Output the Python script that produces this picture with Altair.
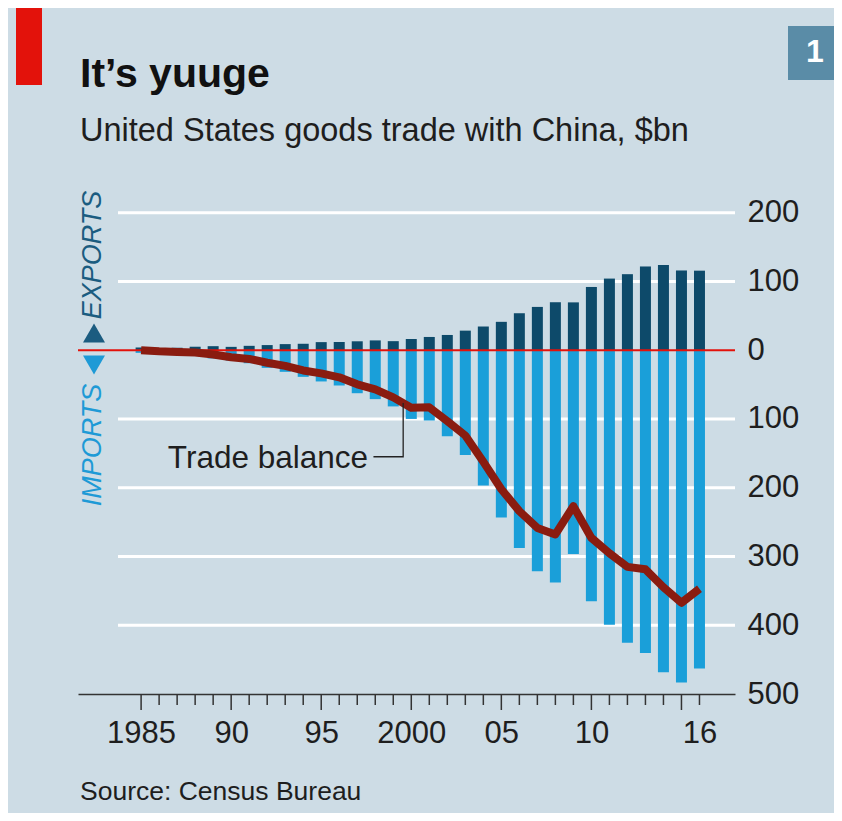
import altair as alt
import pandas as pd

# ---- data (US goods trade with China, $bn) ----
years = list(range(1985, 2017))
exports = [3.9, 3.1, 3.5, 5.0, 5.8, 4.8, 6.3, 7.4, 8.8, 9.3, 11.7, 12.0, 12.9, 14.2, 13.1,
           16.2, 19.2, 22.1, 28.4, 34.4, 41.2, 53.7, 62.9, 69.7, 69.5, 91.9, 104.1, 110.5,
           121.7, 123.7, 115.9, 115.6]
imports = [3.9, 4.8, 6.3, 8.5, 12.0, 15.2, 19.0, 25.7, 31.5, 38.8, 45.5, 51.5, 62.6, 71.2,
           81.8, 100.0, 102.3, 125.2, 152.4, 196.7, 243.5, 287.8, 321.4, 337.8, 296.4, 365.0,
           399.4, 425.6, 440.4, 468.5, 483.2, 462.8]
balance = [0.0, -1.7, -2.8, -3.5, -6.2, -10.4, -12.7, -18.3, -22.8, -29.5, -33.8, -39.5,
           -49.7, -56.9, -68.7, -83.8, -83.1, -103.1, -124.1, -162.3, -202.3, -234.1, -258.5,
           -268.0, -226.9, -273.0, -295.3, -315.1, -318.7, -344.8, -367.3, -347.0]

y_ticks = [200, 100, 0, -100, -200, -300, -400, -500]
grid_values = [200, 100, -100, -200, -300, -400]
x_label_years = [1985, 1990, 1995, 2000, 2005, 2010, 2016]
x_label_texts = ["1985", "90", "95", "2000", "05", "10", "16"]
major_tick_years = [1985, 1990, 1995, 2000, 2005, 2010, 2015]
minor_tick_years = [y for y in years if y not in major_tick_years]

leader_x = [1999.55, 1999.55, 1997.9]
leader_y = [-77, -155, -155]
annot_year = [1997.6]
annot_value = [-171]
annot_text = ["Trade balance"]

# ---- styling ----
BG = "#CDDCE5"
EXP = "#0D4A6A"
IMP = "#1A9FD9"
BAL = "#8A1C10"
RED = "#E3120B"
TXT = "#1E1E1E"
NUM_FONT = "Liberation Sans"
TXT_FONT = "Liberation Sans"

W, H = 657, 502
xs = alt.Scale(domain=[1981.774, 2017.695], nice=False, zero=False)
ys = alt.Scale(domain=[-500, 230], nice=False, zero=False)

trade = pd.DataFrame({"year": years, "exports": exports,
                      "imports": [-v for v in imports], "balance": balance})

label_map = "{" + ",".join(f"'{y}':'{t}'" for y, t in zip(x_label_years, x_label_texts)) + "}"

x_axis = alt.Axis(values=x_label_years, labelExpr=f"{label_map}[datum.value]",
                  ticks=False, grid=False, domain=True, domainColor="#333333",
                  domainWidth=1.5, labelFont=NUM_FONT, labelFontSize=31,
                  labelColor=TXT, labelPadding=24, title=None)
y_axis = alt.Axis(orient="right", values=y_ticks, labelExpr="abs(datum.value)",
                  ticks=False, grid=False, domain=False, labelFont=NUM_FONT,
                  labelFontSize=31, labelColor=TXT, labelPadding=12, title=None)

grid = alt.Chart(pd.DataFrame({"v": grid_values, "year": [2000] * 6})).mark_rule(
    color="white", strokeWidth=3).encode(
    y=alt.Y("v:Q", scale=ys, axis=y_axis), x=alt.value(40), x2=alt.value(W))

exp_bars = alt.Chart(trade).mark_bar(width=11, color=EXP).encode(
    x=alt.X("year:Q", scale=xs, axis=x_axis), y=alt.Y("exports:Q", scale=ys),
    y2=alt.datum(0))
imp_bars = alt.Chart(trade).mark_bar(width=11, color=IMP).encode(
    x=alt.X("year:Q", scale=xs), y=alt.Y("imports:Q", scale=ys), y2=alt.datum(0))

zero = alt.Chart(pd.DataFrame({"v": [0]})).mark_rule(color=RED, strokeWidth=2).encode(
    y=alt.Y("v:Q", scale=ys), x=alt.value(0), x2=alt.value(W))

major_ticks = alt.Chart(pd.DataFrame({"year": major_tick_years})).mark_rule(
    color="#333333", strokeWidth=1.5).encode(
    x=alt.X("year:Q", scale=xs), y=alt.value(H), y2=alt.value(H + 16))
minor_ticks = alt.Chart(pd.DataFrame({"year": minor_tick_years})).mark_rule(
    color="#333333", strokeWidth=1.5).encode(
    x=alt.X("year:Q", scale=xs), y=alt.value(H), y2=alt.value(H + 11))

bal_line = alt.Chart(trade).mark_line(color=BAL, strokeWidth=8, strokeJoin="round").encode(
    x=alt.X("year:Q", scale=xs), y=alt.Y("balance:Q", scale=ys))

leader = alt.Chart(pd.DataFrame({"x": leader_x, "y": leader_y, "o": [0, 1, 2]})).mark_line(
    color="#222222", strokeWidth=1.3).encode(
    x=alt.X("x:Q", scale=xs), y=alt.Y("y:Q", scale=ys), order="o:O")

annot = alt.Chart(pd.DataFrame({"x": annot_year, "y": annot_value, "t": annot_text})).mark_text(
    align="right", baseline="alphabetic", font=TXT_FONT, fontSize=31.5, color=TXT).encode(
    x=alt.X("x:Q", scale=xs), y=alt.Y("y:Q", scale=ys), text="t:N")

# ---- decorations / titles ----
def txt(text, x, y, **kw):
    return alt.Chart(pd.DataFrame({"t": [text]})).mark_text(**kw).encode(
        x=alt.value(x), y=alt.value(y), text="t:N")

red_tag = alt.Chart(pd.DataFrame({"a": [0]})).mark_rect(color=RED).encode(
    x=alt.value(-62), x2=alt.value(-36), y=alt.value(-184), y2=alt.value(-107))
box = alt.Chart(pd.DataFrame({"a": [0]})).mark_rect(color="#5A8CA7").encode(
    x=alt.value(710), x2=alt.value(756), y=alt.value(-166), y2=alt.value(-112))
box_num = txt("1", 737, -140, align="center", baseline="middle", font=TXT_FONT,
              fontSize=32, fontWeight="bold", color="white")
title = txt("It\u2019s yuuge", 2, -105, align="left", baseline="alphabetic", font=TXT_FONT,
            fontSize=41, fontWeight="bold", color="#111111")
subtitle = txt("United States goods trade with China, $bn", 2, -51, align="left",
               baseline="alphabetic", font=TXT_FONT, fontSize=32.5, color=TXT)
source = txt("Source: Census Bureau", 2, 608, align="left", baseline="alphabetic",
             font=TXT_FONT, fontSize=26.5, color=TXT)
imp_lab = txt("IMPORTS", 15, 253, align="center", baseline="middle", angle=270,
              font=TXT_FONT, fontSize=27, fontStyle="italic", color="#1E9AD6")
exp_lab = txt("EXPORTS", 15, 63, align="center", baseline="middle", angle=270,
              font=TXT_FONT, fontSize=27, fontStyle="italic", color="#1B5C80")
tri_up = alt.Chart(pd.DataFrame({"a": [0]})).mark_point(
    shape="triangle-up", filled=True, size=484, color="#1B5C80", opacity=1).encode(
    x=alt.value(16), y=alt.value(141))
tri_dn = alt.Chart(pd.DataFrame({"a": [0]})).mark_point(
    shape="triangle-down", filled=True, size=484, color="#1E9AD6", opacity=1).encode(
    x=alt.value(16), y=alt.value(173))

chart = alt.layer(
    grid, exp_bars, imp_bars, zero, major_ticks, minor_ticks, bal_line, leader, annot,
    red_tag, box, box_num, title, subtitle, source, imp_lab, exp_lab, tri_up, tri_dn
).properties(
    width=W, height=H,
    padding={"left": 70, "top": 184, "right": 99, "bottom": 119},
    autosize=alt.AutoSizeParams(type="none"),
    background=BG,
).configure_view(stroke=None)

chart.save("out.html", embed_options={"renderer": "svg", "actions": False})
